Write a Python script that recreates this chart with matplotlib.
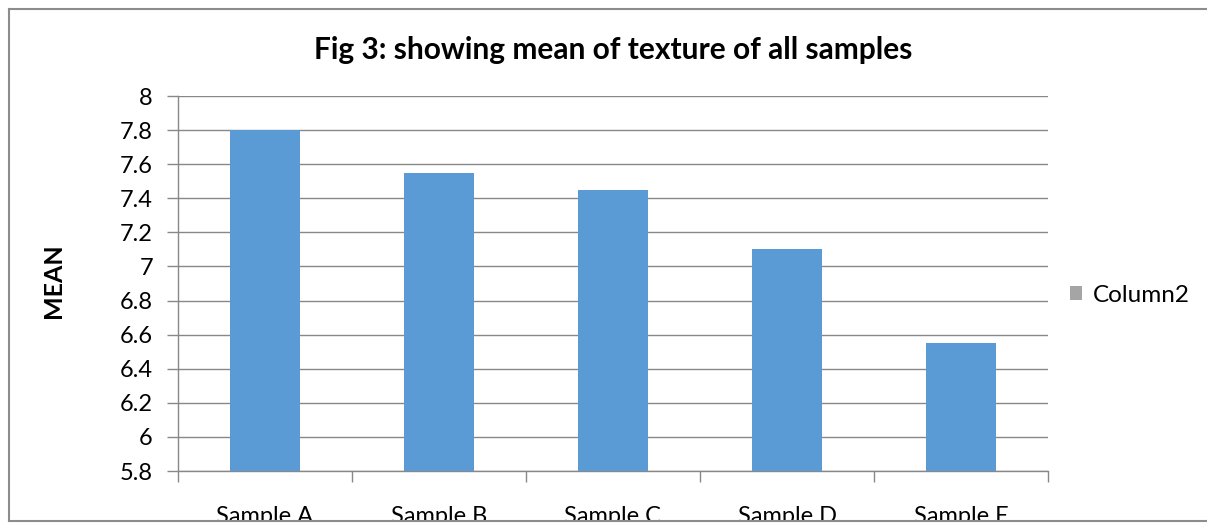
import matplotlib
matplotlib.use("Agg")
import matplotlib.pyplot as plt
from matplotlib.patches import Patch, Rectangle
from matplotlib.lines import Line2D
from matplotlib.ticker import FixedLocator

plt.rcParams["font.family"] = ["Lato", "DejaVu Sans"]

samples = ["Sample A", "Sample B", "Sample C", "Sample D", "Sample E"]
mean_texture = [7.8, 7.55, 7.45, 7.1, 6.55]
y_ticks = [5.8, 6, 6.2, 6.4, 6.6, 6.8, 7, 7.2, 7.4, 7.6, 7.8, 8]
y_tick_labels = ["5.8", "6", "6.2", "6.4", "6.6", "6.8", "7", "7.2", "7.4", "7.6", "7.8", "8"]

BAR_BLUE = "#5B9BD5"
GRID_GREY = "#888888"
W, H = 1207, 523

fig = plt.figure(figsize=(W / 100, H / 100), dpi=100)
ax = fig.add_axes([178 / W, 52 / H, 870 / W, 375 / H])

x = range(len(samples))
ax.bar(x, mean_texture, width=0.4, color=BAR_BLUE, zorder=3)

ax.set_xlim(-0.5, len(samples) - 0.5)
ax.set_ylim(5.8, 8)
ax.set_yticks(y_ticks)
ax.set_yticklabels(y_tick_labels, fontsize=17)
ax.set_xticks(list(x))
ax.set_xticklabels(samples, fontsize=17)
ax.xaxis.set_minor_locator(FixedLocator([i - 0.5 for i in range(len(samples) + 1)]))
ax.tick_params(axis="x", which="major", length=0, pad=25)
ax.tick_params(axis="x", which="minor", length=8, width=1, color=GRID_GREY, direction="out")
ax.tick_params(axis="y", length=8, width=1, color=GRID_GREY, direction="out", pad=10)

ax.grid(True, axis="y", color=GRID_GREY, linewidth=1, zorder=0)
for side in ["top", "right"]:
    ax.spines[side].set_visible(False)
for side in ["left", "bottom"]:
    ax.spines[side].set_color(GRID_GREY)
    ax.spines[side].set_linewidth(1)

ax.set_ylabel("MEAN", fontsize=18, fontweight="bold")
ax.yaxis.set_label_coords(65 / W, 1 - 281 / H, transform=fig.transFigure)

fig.text(613 / W, 1 - 50 / H, "Fig 3: showing mean of texture of all samples",
         ha="center", va="center", fontsize=21.5, fontweight="bold")

legend_handle = Patch(facecolor="#A5A5A5", edgecolor="none")
fig.legend([legend_handle], ["Column2"], loc="center left",
           bbox_to_anchor=(1058 / W, 1 - 295 / H), frameon=False, borderpad=0,
           fontsize=17.5, handlelength=0.5, handleheight=0.5, handletextpad=0.42)

# white strip below the chart border so the category labels get cut off
fig.add_artist(Rectangle((0, 0), 1, 2 / H, transform=fig.transFigure,
                         facecolor="white", edgecolor="none", zorder=10))
border = dict(color="#8C8C8C", linewidth=1.5, zorder=11, transform=fig.transFigure)
fig.add_artist(Line2D([9 / W, 9 / W], [2 / H, 1 - 9 / H], **border))
fig.add_artist(Line2D([9 / W, 1], [1 - 9 / H, 1 - 9 / H], **border))
fig.add_artist(Line2D([9 / W, 1], [2 / H, 2 / H], **border))

fig.savefig("out.png", dpi=100, facecolor="white")
